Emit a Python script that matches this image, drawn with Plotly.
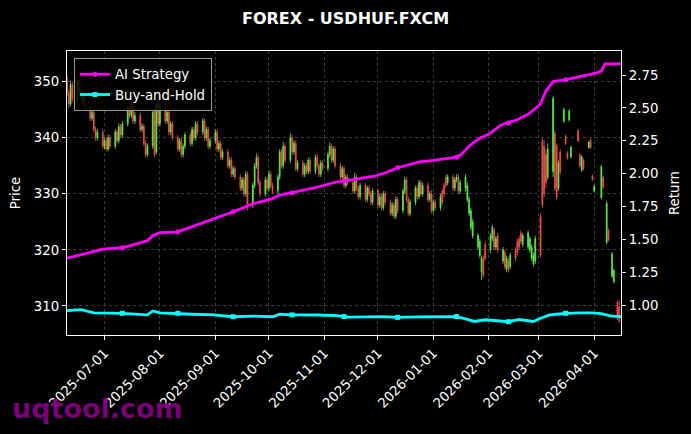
import pandas as pd
import plotly.graph_objects as go

# ---------------- data ----------------
# Dense daily candles (business days 2025-06-10 .. 2026-03-13)
DENSE_START = "2025-06-10"
DENSE_END = "2026-03-13"

OPEN = [
    350.5, 348.0, 346.0, 349.5,
    347.0, 350.0, 348.5, 346.5, 348.0,
    345.5, 343.5, 344.5, 341.5, 340.0,
    341.0, 338.5, 339.5, 338.0, 340.0,
    338.5, 341.0, 339.5, 342.0, 340.5,
    342.5, 345.5, 344.0, 346.0, 343.0,
    344.0, 341.5, 342.0, 339.0, 337.0,
    338.5, 345.0, 337.5, 348.0, 342.5,
    346.0, 343.0, 344.5, 341.0, 342.5,
    340.0, 338.0, 339.5, 337.0, 338.5,
    340.5, 339.0, 341.5, 340.0, 342.5,
    341.0, 343.0, 340.0, 341.5, 338.5,
    339.5, 341.0, 338.0, 339.0, 336.5,
    337.5, 335.0, 336.0, 333.5, 334.5,
    333.0, 331.0, 332.5, 330.0, 333.5,
    328.0, 331.5, 335.0, 336.5, 332.0,
    330.0, 332.5, 331.0, 333.5, 331.5,
    330.5, 333.0, 337.5, 335.0, 338.5,
    336.0, 340.0, 337.5, 339.0, 334.5,
    335.5, 333.5, 335.0, 334.0, 336.0,
    334.0, 336.5, 335.0, 333.5, 335.5,
    334.5, 337.0, 338.5, 336.0, 338.0,
    335.0, 333.0, 334.5, 331.5, 333.0,
    332.0, 330.5, 333.0, 331.0, 329.5,
    331.5, 329.0, 331.0, 330.0, 328.5,
    330.5, 328.0, 329.5, 327.5, 330.0,
    328.5, 326.5, 328.0, 326.0, 329.0,
    327.0, 330.5, 332.5, 329.0, 326.5,
    328.5, 331.0, 329.5, 332.0, 330.0,
    331.5, 329.0, 330.0, 327.0, 328.5,
    327.5, 330.5, 331.5, 333.0, 332.0,
    333.0, 331.0, 332.5, 333.0, 330.5,
    331.0, 329.0, 326.5, 324.0, 322.5,
    320.5, 319.0, 316.0, 318.5, 321.0,
    320.0, 322.0, 323.5, 320.5, 322.5,
    318.0, 319.5, 316.5, 318.0, 317.0,
    320.0, 321.5, 322.0, 323.0, 321.0,
    320.5, 320.0, 318.5, 317.5, 318.0,
    326.0, 339.5, 338.5, 337.0, 333.0,
    334.0, 340.8, 338.5, 331.0, 337.5,
]
CLOSE = [
    348.0, 346.0, 349.5, 347.0,
    350.0, 348.5, 346.5, 348.0, 345.5,
    343.5, 344.5, 341.5, 340.0, 341.0,
    338.5, 339.5, 338.0, 340.0, 338.5,
    341.0, 339.5, 342.0, 340.5, 342.5,
    345.5, 344.0, 346.0, 343.0, 344.0,
    341.5, 342.0, 339.0, 337.0, 338.5,
    344.5, 337.0, 346.0, 342.5, 346.0,
    343.0, 344.5, 341.0, 342.5, 340.0,
    338.0, 339.5, 337.0, 338.5, 340.5,
    339.0, 341.5, 340.0, 342.5, 341.0,
    343.0, 340.0, 341.5, 338.5, 339.5,
    341.0, 338.0, 339.0, 336.5, 337.5,
    335.0, 336.0, 333.5, 334.5, 333.0,
    331.0, 332.5, 330.0, 333.5, 328.0,
    331.5, 335.0, 336.5, 332.0, 330.0,
    332.5, 331.0, 333.5, 331.5, 330.5,
    333.0, 337.5, 335.0, 338.5, 336.0,
    340.0, 337.5, 339.0, 334.5, 335.5,
    333.5, 335.0, 334.0, 336.0, 334.0,
    336.5, 335.0, 333.5, 335.5, 334.5,
    337.0, 338.5, 336.0, 338.0, 335.0,
    333.0, 334.5, 331.5, 333.0, 332.0,
    330.5, 333.0, 331.0, 329.5, 331.5,
    329.0, 331.0, 330.0, 328.5, 330.5,
    328.0, 329.5, 327.5, 330.0, 328.5,
    326.5, 328.0, 326.0, 329.0, 327.0,
    330.5, 332.5, 329.0, 326.5, 328.5,
    331.0, 329.5, 332.0, 330.0, 331.5,
    329.0, 330.0, 327.0, 328.5, 327.5,
    329.5, 328.5, 330.0, 331.5, 333.0,
    331.0, 332.5, 333.0, 330.5, 332.0,
    333.0, 331.5, 329.0, 327.0, 325.0,
    322.5, 321.5, 318.5, 315.5, 318.5,
    322.5, 324.0, 320.5, 322.0, 320.0,
    320.0, 317.0, 318.5, 316.5, 319.0,
    318.5, 319.5, 320.5, 321.5, 322.5,
    323.0, 322.0, 320.5, 319.0, 322.0,
    319.0, 328.0, 330.0, 332.0, 338.0,
    347.0, 331.0, 329.4, 335.5, 334.0,
]
HIGH = [
    351.2, 348.6, 350.2, 350.0,
    350.8, 350.6, 349.0, 348.7, 348.5,
    346.0, 345.2, 345.0, 342.0, 341.6,
    341.5, 340.0, 340.1, 340.6, 340.5,
    341.5, 341.5, 342.6, 342.5, 343.0,
    346.0, 346.0, 346.6, 346.5, 344.6,
    344.5, 342.6, 342.5, 339.5, 339.0,
    345.0, 345.5, 346.5, 348.6, 346.5,
    346.5, 345.0, 345.0, 343.0, 343.0,
    340.5, 340.0, 340.0, 339.0, 341.0,
    341.0, 342.0, 342.0, 343.0, 343.0,
    343.5, 343.5, 342.0, 342.0, 340.0,
    341.5, 341.5, 339.5, 339.5, 338.0,
    338.0, 336.5, 336.5, 335.0, 335.0,
    333.5, 333.0, 333.0, 334.0, 334.0,
    332.0, 335.5, 337.2, 337.0, 332.5,
    333.0, 333.0, 334.2, 334.0, 332.0,
    333.5, 338.0, 338.0, 339.3, 339.0,
    340.8, 340.5, 339.5, 339.5, 336.0,
    336.0, 335.5, 335.5, 336.5, 336.5,
    337.0, 337.2, 335.5, 336.0, 336.0,
    337.5, 339.2, 339.0, 338.5, 338.5,
    335.5, 335.0, 335.0, 333.5, 333.5,
    332.5, 333.8, 333.5, 331.5, 332.0,
    332.0, 331.5, 331.5, 330.5, 331.0,
    331.0, 330.0, 330.0, 330.5, 330.5,
    329.0, 328.5, 328.5, 329.5, 329.5,
    331.0, 333.0, 333.0, 329.5, 329.0,
    331.5, 331.5, 332.5, 332.5, 332.0,
    332.0, 330.5, 330.7, 329.0, 329.0,
    330.0, 331.0, 332.0, 333.5, 333.5,
    333.5, 333.0, 333.5, 333.5, 332.5,
    333.5, 332.0, 329.5, 327.5, 325.5,
    323.0, 322.0, 319.0, 319.0, 321.5,
    323.0, 324.5, 324.0, 322.5, 323.0,
    320.5, 320.0, 319.0, 318.5, 319.5,
    320.5, 322.0, 322.5, 323.5, 323.0,
    323.5, 322.5, 321.0, 319.5, 322.5,
    326.5, 340.0, 339.6, 338.0, 339.0,
    347.5, 341.3, 339.0, 336.0, 338.0,
]
LOW = [
    347.4, 345.3, 345.6, 346.4,
    346.5, 347.9, 346.0, 345.9, 344.9,
    343.0, 343.0, 341.0, 339.4, 339.5,
    338.0, 338.0, 337.6, 337.6, 338.0,
    338.0, 339.0, 339.0, 340.0, 340.0,
    342.0, 343.5, 343.5, 342.5, 342.5,
    341.0, 341.0, 338.5, 336.5, 336.6,
    338.0, 336.5, 337.0, 342.0, 342.0,
    342.5, 342.5, 340.5, 340.5, 339.5,
    337.5, 337.5, 336.5, 336.5, 338.0,
    338.5, 338.5, 339.5, 339.5, 340.5,
    340.5, 339.5, 339.5, 338.0, 338.0,
    339.0, 337.5, 337.5, 336.0, 336.0,
    334.5, 334.5, 333.0, 333.0, 332.5,
    330.5, 330.5, 329.5, 329.5, 327.0,
    327.5, 331.0, 334.5, 331.5, 329.4,
    329.5, 330.5, 330.5, 331.0, 330.0,
    330.0, 332.5, 334.5, 334.5, 335.5,
    335.5, 337.0, 337.0, 334.0, 334.0,
    333.0, 333.0, 333.5, 333.5, 333.5,
    333.5, 334.5, 333.0, 333.0, 334.0,
    334.0, 336.5, 335.5, 335.5, 334.5,
    332.5, 332.5, 331.0, 331.0, 331.5,
    330.0, 330.0, 330.5, 329.0, 329.0,
    328.5, 328.5, 329.5, 328.0, 328.0,
    327.5, 327.5, 327.0, 327.0, 328.0,
    326.0, 326.0, 325.5, 325.5, 326.5,
    326.5, 330.0, 328.5, 326.0, 326.0,
    328.0, 329.0, 329.0, 329.5, 329.5,
    328.5, 328.5, 326.5, 326.5, 327.0,
    327.0, 328.0, 329.5, 331.0, 331.5,
    330.5, 330.5, 332.0, 330.0, 330.0,
    330.5, 328.5, 326.0, 323.5, 322.0,
    320.0, 318.5, 314.6, 315.0, 318.0,
    319.5, 321.5, 320.0, 320.0, 319.5,
    317.5, 316.5, 316.0, 316.0, 316.5,
    318.0, 319.0, 320.0, 321.0, 320.5,
    320.0, 319.5, 318.0, 317.0, 317.5,
    318.5, 327.5, 329.4, 331.0, 332.5,
    333.0, 330.5, 329.0, 330.5, 333.5,
]

# Sparse candles at the end of the period
SPARSE_DATES = ["2026-03-15", "2026-03-16", "2026-03-17", "2026-03-18", "2026-03-19",
                "2026-03-23", "2026-03-24", "2026-03-25", "2026-03-26", "2026-03-29",
                "2026-03-30", "2026-03-31", "2026-04-01", "2026-04-05", "2026-04-06",
                "2026-04-08", "2026-04-09", "2026-04-11", "2026-04-12", "2026-04-14",
                "2026-04-15"]
SPARSE_OPEN = [343.0, 340.3, 337.3, 343.2, 336.6, 341.3, 337.0, 334.2, 336.0, 338.3,
               339.6, 333.2, 330.5, 329.3, 332.9, 321.3, 323.5, 315.3, 314.3, 310.6, 309.8]
SPARSE_CLOSE = [345.0, 339.0, 336.4, 344.8, 338.3, 339.5, 335.0, 336.6, 334.5, 339.2,
                338.3, 332.6, 331.3, 334.8, 331.2, 328.3, 321.8, 319.3, 316.3, 307.8, 307.3]
SPARSE_HIGH = [345.4, 340.6, 337.6, 345.1, 338.6, 341.6, 337.3, 336.9, 336.3, 339.5,
               339.9, 333.5, 331.6, 335.2, 333.2, 328.7, 323.8, 319.6, 316.6, 310.9, 311.0]
SPARSE_LOW = [342.7, 338.7, 336.1, 342.9, 336.3, 339.2, 334.7, 333.9, 334.2, 338.0,
              338.0, 332.3, 330.2, 329.0, 330.9, 321.0, 321.5, 315.0, 314.0, 307.5, 307.0]

# AI Strategy cumulative return
AI_DATES = ["2025-06-10", "2025-06-18", "2025-06-25", "2025-06-30", "2025-07-11",
            "2025-07-25", "2025-07-28", "2025-08-01", "2025-08-11", "2025-08-19",
            "2025-08-31", "2025-09-11", "2025-09-22", "2025-10-03", "2025-10-07",
            "2025-10-14", "2025-10-29", "2025-11-08", "2025-11-12", "2025-11-15",
            "2025-11-29", "2025-12-06", "2025-12-12", "2025-12-24", "2026-01-01",
            "2026-01-12", "2026-01-14", "2026-01-17", "2026-01-21", "2026-01-27",
            "2026-02-01", "2026-02-08", "2026-02-12", "2026-02-17", "2026-02-24",
            "2026-03-02", "2026-03-05", "2026-03-09", "2026-03-16", "2026-03-25",
            "2026-04-02", "2026-04-05", "2026-04-07", "2026-04-16"]
AI_RETURN = [1.356, 1.385, 1.41, 1.425, 1.436,
             1.49, 1.53, 1.55, 1.557, 1.596,
             1.66, 1.71, 1.77, 1.81, 1.837,
             1.855, 1.90, 1.938, 1.945, 1.95,
             1.98, 2.01, 2.045, 2.09, 2.10,
             2.12, 2.125, 2.15, 2.21, 2.27,
             2.30, 2.37, 2.386, 2.41, 2.46,
             2.53, 2.63, 2.70, 2.715, 2.74,
             2.765, 2.78, 2.835, 2.835]

# Buy-and-Hold cumulative return
BH_DATES = ["2025-06-10", "2025-06-18", "2025-06-25", "2025-06-30", "2025-07-11",
            "2025-07-25", "2025-07-28", "2025-08-01", "2025-08-11", "2025-08-19",
            "2025-08-31", "2025-09-11", "2025-09-22", "2025-10-03", "2025-10-07",
            "2025-10-14", "2025-10-29", "2025-11-08", "2025-11-12", "2025-11-15",
            "2025-12-04", "2025-12-12", "2025-12-24", "2026-01-05", "2026-01-14",
            "2026-01-19", "2026-01-24", "2026-01-30", "2026-02-07", "2026-02-12",
            "2026-02-18", "2026-02-26", "2026-03-02", "2026-03-07", "2026-03-11",
            "2026-03-16", "2026-03-24", "2026-03-31", "2026-04-05", "2026-04-10",
            "2026-04-16"]
BH_RETURN = [0.957, 0.965, 0.94, 0.94, 0.937,
             0.925, 0.955, 0.94, 0.937, 0.93,
             0.925, 0.911, 0.916, 0.911, 0.93,
             0.925, 0.924, 0.92, 0.912, 0.908,
             0.912, 0.906, 0.91, 0.911, 0.912,
             0.895, 0.875, 0.888, 0.878, 0.873,
             0.89, 0.875, 0.9, 0.925, 0.93,
             0.937, 0.94, 0.941, 0.935, 0.918,
             0.912]

MARKER_DATES = ["2025-07-11", "2025-08-11", "2025-09-11", "2025-10-14", "2025-11-12",
                "2025-12-12", "2026-01-14", "2026-02-12", "2026-03-16"]

X_TICKS = ["2025-07-01", "2025-08-01", "2025-09-01", "2025-10-01", "2025-11-01",
           "2025-12-01", "2026-01-01", "2026-02-01", "2026-03-01", "2026-04-01"]
PRICE_TICKS = [310, 320, 330, 340, 350]
RETURN_TICKS = [1.00, 1.25, 1.50, 1.75, 2.00, 2.25, 2.50, 2.75]

# ---------------- figure ----------------
dense_dates = [d.strftime("%Y-%m-%d") for d in pd.bdate_range(DENSE_START, DENSE_END)]
assert len(dense_dates) == len(OPEN) == len(CLOSE) == len(HIGH) == len(LOW)

cdates = dense_dates + SPARSE_DATES
c_open = OPEN + SPARSE_OPEN
c_high = HIGH + SPARSE_HIGH
c_low = LOW + SPARSE_LOW
c_close = CLOSE + SPARSE_CLOSE

GREEN = "#5ef04a"
RED = "#f0524a"
MAGENTA = "#ff00ff"
CYAN = "#00ffff"
FONT = "DejaVu Sans"
FS = 13.3

fig = go.Figure()
fig.add_trace(go.Candlestick(
    x=cdates, open=c_open, high=c_high, low=c_low, close=c_close,
    increasing=dict(line=dict(color=GREEN, width=0.8), fillcolor=GREEN),
    decreasing=dict(line=dict(color=RED, width=0.8), fillcolor=RED),
    whiskerwidth=0, showlegend=False, yaxis="y", hoverinfo="skip",
))

fig.add_trace(go.Scatter(x=AI_DATES, y=AI_RETURN, mode="lines", yaxis="y2",
                         line=dict(color=MAGENTA, width=2.8), showlegend=False))
fig.add_trace(go.Scatter(x=BH_DATES, y=BH_RETURN, mode="lines", yaxis="y2",
                         line=dict(color=CYAN, width=2.8), showlegend=False))

ai_mk = [(d, v) for d, v in zip(AI_DATES, AI_RETURN) if d in MARKER_DATES]
bh_mk = [(d, v) for d, v in zip(BH_DATES, BH_RETURN) if d in MARKER_DATES]
fig.add_trace(go.Scatter(x=[p[0] for p in ai_mk], y=[p[1] for p in ai_mk], mode="markers",
                         yaxis="y2", marker=dict(color=MAGENTA, size=5, symbol="circle"),
                         showlegend=False))
fig.add_trace(go.Scatter(x=[p[0] for p in bh_mk], y=[p[1] for p in bh_mk], mode="markers",
                         yaxis="y2", marker=dict(color=CYAN, size=5, symbol="square"),
                         showlegend=False))

# legend entries
fig.add_trace(go.Scatter(x=[None], y=[None], mode="lines+markers", name="AI Strategy", yaxis="y2",
                         line=dict(color=MAGENTA, width=2.8),
                         marker=dict(color=MAGENTA, size=5, symbol="circle")))
fig.add_trace(go.Scatter(x=[None], y=[None], mode="lines+markers", name="Buy-and-Hold", yaxis="y2",
                         line=dict(color=CYAN, width=2.8),
                         marker=dict(color=CYAN, size=5, symbol="square")))

axis_common = dict(
    showline=True, linecolor="white", linewidth=1.3,
    ticks="outside", ticklen=4, tickcolor="white", tickwidth=1,
    tickfont=dict(family=FONT, size=FS, color="white"),
    zeroline=False, automargin=False,
)
GRID = dict(showgrid=True, gridcolor="#3c3c3c", griddash="3px,3px", gridwidth=0.8)

fig.update_layout(
    width=691, height=434,
    margin=dict(l=67, r=70, t=51, b=99, autoexpand=False),
    paper_bgcolor="black", plot_bgcolor="black",
    font=dict(family=FONT, color="white", size=FS),
    title=dict(text="<b>FOREX - USDHUF.FXCM</b>", x=0.5, xanchor="center",
               y=1 - 18 / 434, yanchor="middle",
               font=dict(family=FONT, size=16, color="white")),
    xaxis=dict(type="date", range=["2025-06-10", "2026-04-16"],
               tickvals=X_TICKS, ticktext=X_TICKS, tickangle=-45,
               rangeslider=dict(visible=False),
               mirror=True, **GRID, **axis_common),
    yaxis=dict(range=[304.8, 355.5], tickvals=PRICE_TICKS,
               mirror=True, **GRID,
               title=dict(text="Price", font=dict(family=FONT, size=FS, color="white"), standoff=10),
               **axis_common),
    yaxis2=dict(overlaying="y", side="right", range=[0.772, 2.933],
                tickvals=RETURN_TICKS, tickformat=".2f", showgrid=False,
                title=dict(text="Return", font=dict(family=FONT, size=FS, color="white"), standoff=12),
                **axis_common),
    legend=dict(x=0.0126, y=0.975, xanchor="left", yanchor="top",
                bgcolor="rgba(0,0,0,0.85)", bordercolor="#9a9a9a", borderwidth=1,
                font=dict(family=FONT, size=FS, color="white"),
                tracegroupgap=2),
    annotations=[dict(text="<b>uqtool.com</b>", xref="paper", yref="paper",
                      x=(10 - 67) / 554, y=(335 - 409) / 284, xanchor="left", yanchor="middle",
                      showarrow=False,
                      font=dict(family=FONT, size=27, color="rgba(128,0,128,0.95)"))],
)

fig.write_html("out.html", config={"displayModeBar": False},
               post_script="document.body.style.margin='0';document.body.style.background='black';")
